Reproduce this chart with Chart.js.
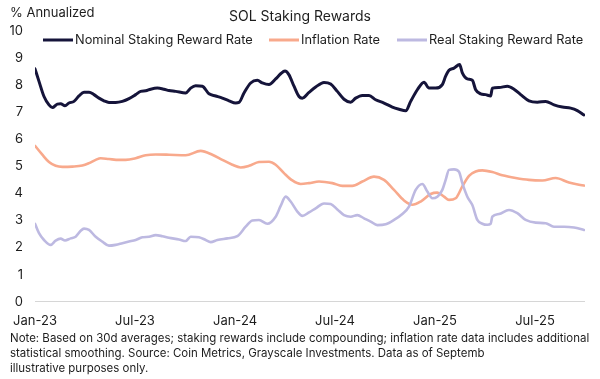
<!DOCTYPE html>
<html>
<head>
<meta charset="utf-8">
<script src="https://cdn.jsdelivr.net/npm/chart.js@4.4.1/dist/chart.umd.min.js"></script>
<style>
  html, body { margin: 0; padding: 0; background: #ffffff; }
  #wrap { width: 600px; height: 379px; position: relative; }
</style>
</head>
<body>
<div id="wrap"><canvas id="c" width="600" height="379"></canvas></div>
<script>
// ---- data (x = months since Jan 2023) ----
const chartTitle = 'SOL Staking Rewards';
const yAxisTitle = '% Annualized';
const seriesNames = ['Nominal Staking Reward Rate', 'Inflation Rate', 'Real Staking Reward Rate'];
const tickMonths = [0, 6, 12, 18, 24, 30];
const tickLabels = ['Jan-23', 'Jul-23', 'Jan-24', 'Jul-24', 'Jan-25', 'Jul-25'];
const noteLines = [
  'Note: Based on 30d averages; staking rewards include compounding; inflation rate data includes additional',
  'statistical smoothing. Source: Coin Metrics, Grayscale Investments. Data as of Septemb',
  'illustrative purposes only.'
];

const nominalMonths = [0,0.24,0.54,0.84,1.04,1.34,1.54,1.8,2.04,2.34,2.64,2.94,3.24,3.54,3.84,4.14,4.44,4.84,5.24,5.64,6.04,6.34,6.64,6.94,7.34,7.74,
  8.04,8.44,9.04,9.34,9.64,10.04,10.44,10.84,11.24,11.64,12.04,12.24,12.54,12.94,13.34,13.64,14.04,14.44,14.74,15.0,15.24,15.54,15.84,16.04,
  16.44,16.84,17.34,17.74,18.14,18.54,18.94,19.24,19.64,20.04,20.44,20.94,21.44,21.84,22.24,22.54,22.94,23.34,23.64,24.04,24.44,24.64,
  24.84,25.14,25.48,25.64,25.94,26.24,26.44,26.74,27.04,27.34,27.44,27.84,28.34,28.74,29.14,29.64,30.14,30.64,31.14,31.64,32.14,32.54,32.94];
const nominalRate = [8.6,8.14,7.58,7.27,7.17,7.3,7.31,7.24,7.34,7.4,7.6,7.74,7.74,7.65,7.52,7.42,7.36,7.36,7.4,7.5,7.65,7.77,7.79,7.85,7.89,7.85,
  7.8,7.77,7.71,7.89,7.98,7.96,7.68,7.6,7.52,7.42,7.34,7.36,7.71,8.08,8.18,8.08,8.02,8.23,8.42,8.52,8.38,7.96,7.58,7.52,
  7.73,7.93,8.1,8.04,7.77,7.48,7.37,7.52,7.62,7.62,7.46,7.34,7.19,7.11,7.05,7.4,7.83,8.11,7.89,7.89,8.02,8.33,
  8.55,8.63,8.76,8.45,8.23,8.18,7.83,7.68,7.65,7.6,7.89,7.91,7.96,7.85,7.65,7.42,7.37,7.4,7.27,7.19,7.15,7.06,6.9];

const inflationMonths = [0,0.44,0.84,1.24,1.64,2.24,2.84,3.24,3.64,3.94,4.44,5.04,5.44,6.04,6.64,7.24,
  8.04,9.04,9.94,10.64,11.24,11.84,12.34,12.84,13.44,14.04,14.44,14.94,15.44,15.94,
  16.44,17.04,17.84,18.44,19.04,19.64,20.34,20.94,21.54,22.14,22.64,23.14,23.74,24.14,24.54,
  24.84,25.24,25.64,26.04,26.44,26.84,27.44,28.04,28.84,29.64,30.44,31.24,32.04,32.94];
const inflationRate = [5.76,5.43,5.16,5.02,4.98,4.99,5.03,5.12,5.24,5.3,5.27,5.24,5.24,5.3,5.41,5.44,
  5.43,5.41,5.57,5.43,5.24,5.06,4.96,5.02,5.16,5.17,5.06,4.75,4.48,4.35,
  4.38,4.44,4.38,4.28,4.28,4.44,4.62,4.5,4.13,3.74,3.58,3.7,3.98,4.03,3.88,
  3.76,3.82,4.26,4.65,4.81,4.85,4.79,4.67,4.57,4.5,4.48,4.57,4.4,4.29];

const realMonths = [0,0.24,0.54,0.94,1.24,1.54,1.8,2.14,2.44,2.74,2.94,3.24,3.64,4.04,4.44,4.84,5.24,5.64,6.04,6.44,6.84,7.24,7.64,
  8.04,8.64,9.04,9.34,9.84,10.24,10.54,10.94,11.54,12.14,12.64,13.04,13.44,13.94,14.44,14.74,15.04,15.34,15.74,16.04,
  16.44,16.84,17.34,17.74,18.14,18.54,18.94,19.34,19.74,20.14,20.54,21.04,21.54,22.04,22.44,22.84,23.24,23.54,23.84,24.14,24.44,24.64,
  24.84,25.14,25.44,25.64,25.94,26.24,26.54,26.84,27.14,27.34,27.44,27.84,28.44,28.94,29.44,30.04,30.64,31.14,31.74,32.34,32.94];
const realRate = [2.88,2.53,2.28,2.1,2.26,2.33,2.26,2.34,2.4,2.62,2.7,2.65,2.4,2.22,2.07,2.1,2.16,2.22,2.28,2.38,2.4,2.46,2.42,
  2.36,2.3,2.24,2.4,2.38,2.28,2.2,2.28,2.34,2.42,2.77,3.0,3.02,2.88,3.14,3.54,3.88,3.7,3.33,3.17,
  3.3,3.45,3.63,3.61,3.41,3.2,3.14,3.2,3.08,2.96,2.83,2.86,3.02,3.24,3.51,4.13,4.35,4.07,3.82,3.88,4.13,4.5,
  4.87,4.89,4.8,4.38,3.88,3.57,3.02,2.88,2.84,2.88,3.14,3.24,3.39,3.27,3.02,2.92,2.9,2.77,2.77,2.74,2.65];

// ---- build ----
const pts = (xs, ys) => xs.map((x, i) => ({ x: x, y: ys[i] }));
const FONT = 'Inter, "Open Sans", sans-serif';
const legendX = [43, 269, 397];

const textPlugin = {
  id: 'texts',
  afterDraw(chart) {
    const c = chart.ctx;
    c.save();
    c.fillStyle = '#1d1d1d';
    c.textBaseline = 'middle';
    c.textAlign = 'left';
    c.font = '13px ' + FONT;
    c.fillText(yAxisTitle, 10, 13);
    c.textAlign = 'center';
    c.font = '14px ' + FONT;
    c.fillText(chartTitle, 300, 17);
    // legend
    c.textAlign = 'left';
    c.font = '12.8px ' + FONT;
    chart.data.datasets.forEach((ds, i) => {
      const x0 = legendX[i];
      c.strokeStyle = ds.borderColor;
      c.lineWidth = 3;
      c.beginPath(); c.moveTo(x0, 40); c.lineTo(x0 + 30, 40); c.stroke();
      c.fillStyle = '#1d1d1d';
      c.fillText(ds.label, x0 + 32, 40);
    });
    // footnote
    c.font = '12px ' + FONT;
    const w = c.measureText(noteLines[0]).width;
    const size = 12 * 580 / w;
    c.font = size.toFixed(2) + 'px ' + FONT;
    c.fillStyle = '#1d1d1d';
    noteLines.forEach((t, i) => c.fillText(t, 10, 339 + i * 15));
    c.restore();
  }
};

new Chart(document.getElementById('c'), {
  type: 'line',
  data: {
    datasets: [
      { label: seriesNames[0], data: pts(nominalMonths, nominalRate), borderColor: '#15143a', borderWidth: 3, order: 1 },
      { label: seriesNames[1], data: pts(inflationMonths, inflationRate), borderColor: '#f8a98c', borderWidth: 2.6, order: 2 },
      { label: seriesNames[2], data: pts(realMonths, realRate), borderColor: '#bdb9e1', borderWidth: 2.6, order: 0 }
    ]
  },
  options: {
    responsive: false,
    animation: false,
    layout: { padding: { top: 31, right: 15, left: 0, bottom: 0 } },
    elements: { point: { radius: 0 }, line: { tension: 0.35, cubicInterpolationMode: 'monotone', borderCapStyle: 'round', borderJoinStyle: 'round' } },
    plugins: { legend: { display: false }, title: { display: false }, tooltip: { enabled: false } },
    scales: {
      x: {
        type: 'linear', min: 0, max: 33,
        grid: { display: false }, border: { display: false },
        afterBuildTicks: (s) => { s.ticks = tickMonths.map(v => ({ value: v })); },
        afterFit: (s) => { s.height = 77.3; },
        ticks: {
          autoSkip: false, maxRotation: 0, padding: 4, color: '#1d1d1d',
          font: { family: FONT, size: 13 },
          callback: (v) => tickLabels[tickMonths.indexOf(v)]
        }
      },
      y: {
        min: 0, max: 10,
        border: { display: false },
        grid: { drawTicks: false, lineWidth: 1, color: (ctx) => (ctx.tick && ctx.tick.value === 0) ? '#d6d6d6' : 'rgba(0,0,0,0)' },
        afterFit: (s) => { s.width = 35; },
        ticks: { stepSize: 1, padding: 12, color: '#1d1d1d', font: { family: FONT, size: 13 } }
      }
    }
  },
  plugins: [textPlugin]
});
</script>
</body>
</html>
